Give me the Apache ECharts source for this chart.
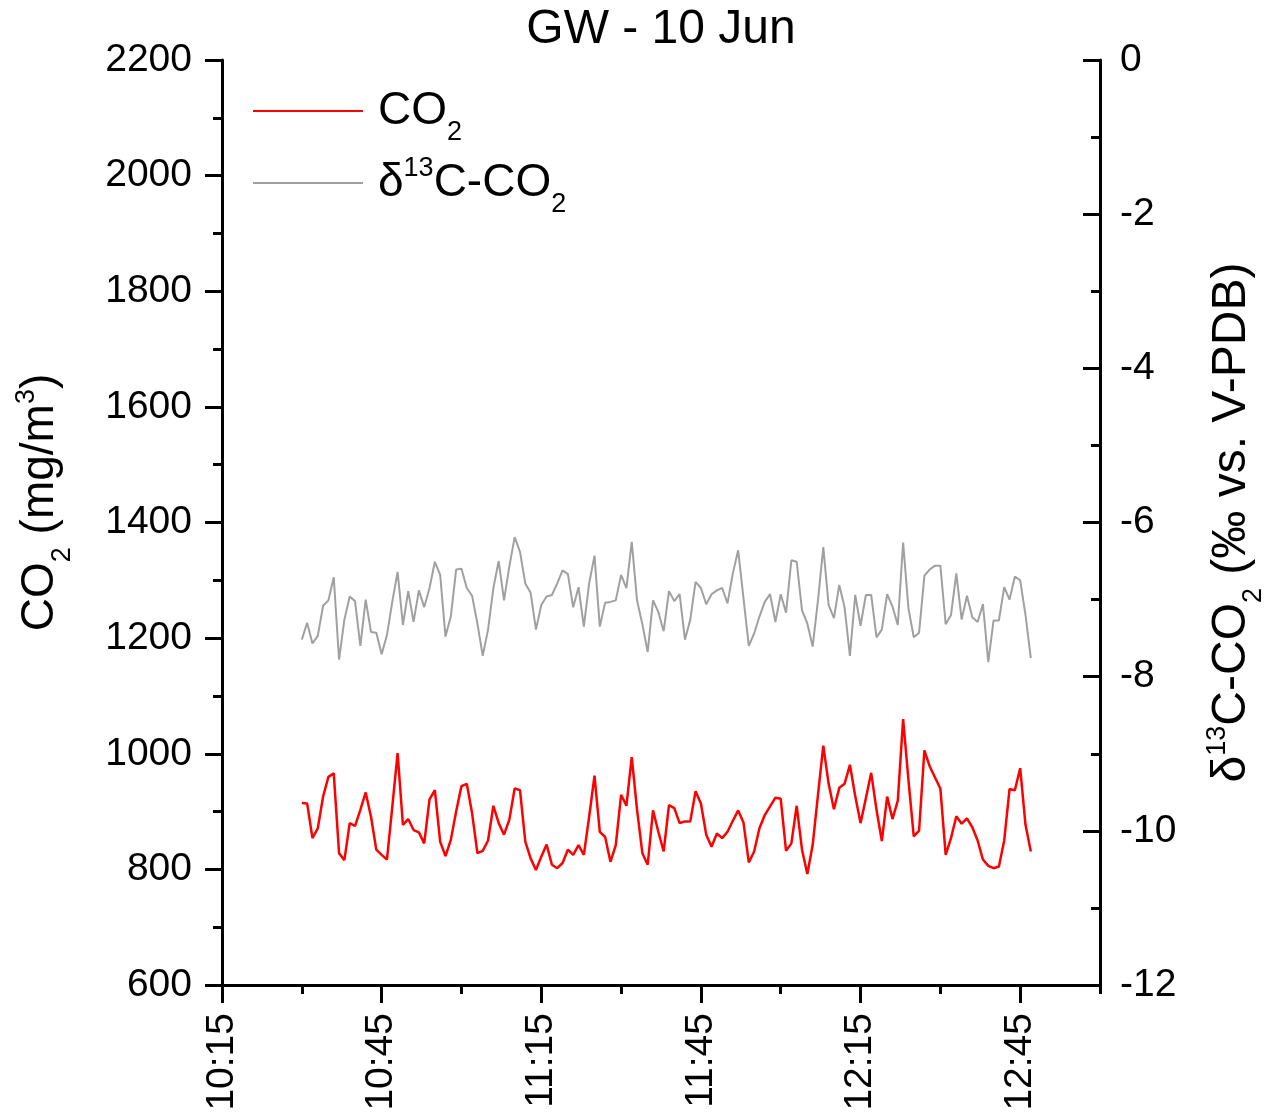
<!DOCTYPE html>
<html>
<head>
<meta charset="utf-8">
<script src="https://cdn.jsdelivr.net/npm/echarts@6/dist/echarts.min.js"></script>
<style>
html,body{margin:0;padding:0;background:#fff;}
#chart{width:1273px;height:1115px;}
</style>
</head>
<body>
<div id="chart"></div>
<script>
const times = [
"10:30","10:31","10:32","10:33","10:34","10:35","10:36","10:37","10:38","10:39",
"10:40","10:41","10:42","10:43","10:44","10:45","10:46","10:47","10:48","10:49",
"10:50","10:51","10:52","10:53","10:54","10:55","10:56","10:57","10:58","10:59",
"11:00","11:01","11:02","11:03","11:04","11:05","11:06","11:07","11:08","11:09",
"11:10","11:11","11:12","11:13","11:14","11:15","11:16","11:17","11:18","11:19",
"11:20","11:21","11:22","11:23","11:24","11:25","11:26","11:27","11:28","11:29",
"11:30","11:31","11:32","11:33","11:34","11:35","11:36","11:37","11:38","11:39",
"11:40","11:41","11:42","11:43","11:44","11:45","11:46","11:47","11:48","11:49",
"11:50","11:51","11:52","11:53","11:54","11:55","11:56","11:57","11:58","11:59",
"12:00","12:01","12:02","12:03","12:04","12:05","12:06","12:07","12:08","12:09",
"12:10","12:11","12:12","12:13","12:14","12:15","12:16","12:17","12:18","12:19",
"12:20","12:21","12:22","12:23","12:24","12:25","12:26","12:27","12:28","12:29",
"12:30","12:31","12:32","12:33","12:34","12:35","12:36","12:37","12:38","12:39",
"12:40","12:41","12:42","12:43","12:44","12:45","12:46","12:47"];

const co2 = [
915,914,854,871,926,960,966,828,816,880,
875,903,933,891,834,825,817,908,1001,877,
887,868,864,845,921,937,848,823,851,900,
944,948,897,828,832,850,910,880,860,886,
940,937,848,819,799,822,843,808,802,811,
834,825,842,825,891,962,865,856,813,842,
929,910,994,903,828,808,902,865,831,911,
906,880,883,883,935,914,860,839,862,854,
865,884,902,881,812,831,871,894,909,924,
922,832,845,910,834,792,842,929,1014,948,
904,941,948,981,927,880,923,967,903,849,
926,887,919,1060,955,857,867,1006,978,959,
940,825,854,892,879,888,873,850,817,806,
802,805,850,939,937,975,877,831];

const d13c = [
-7.52,-7.30,-7.57,-7.47,-7.08,-7.01,-6.71,-7.78,-7.26,-6.96,
-7.02,-7.60,-7.00,-7.42,-7.43,-7.71,-7.46,-7.03,-6.64,-7.33,
-6.89,-7.29,-6.88,-7.10,-6.85,-6.51,-6.68,-7.48,-7.22,-6.61,
-6.60,-6.85,-6.95,-7.31,-7.73,-7.39,-6.85,-6.50,-7.01,-6.57,
-6.19,-6.38,-6.79,-6.91,-7.39,-7.07,-6.96,-6.94,-6.79,-6.62,
-6.67,-7.10,-6.84,-7.35,-6.79,-6.43,-7.35,-7.04,-7.03,-7.01,
-6.68,-6.85,-6.25,-7.01,-7.32,-7.68,-7.01,-7.16,-7.41,-6.89,
-7.02,-6.93,-7.52,-7.26,-6.77,-6.85,-7.06,-6.93,-6.88,-6.85,
-7.05,-6.66,-6.36,-6.98,-7.60,-7.44,-7.22,-7.03,-6.93,-7.29,
-6.93,-7.17,-6.49,-6.51,-7.14,-7.31,-7.61,-7.01,-6.32,-7.07,
-7.24,-6.81,-7.10,-7.73,-6.94,-7.34,-6.94,-6.94,-7.49,-7.39,
-6.93,-7.09,-7.33,-6.26,-7.11,-7.49,-7.43,-6.69,-6.61,-6.56,
-6.56,-7.32,-7.20,-6.66,-7.26,-6.95,-7.23,-7.29,-7.06,-7.81,
-7.27,-7.27,-6.84,-7.00,-6.70,-6.75,-7.20,-7.76];

const xTickLabels = ["10:15","10:45","11:15","11:45","12:15","12:45"];
const xStart = "10:15";
const xEnd = "13:00";

function toMin(t){ const p = t.split(":"); return (+p[0])*60 + (+p[1]); }
const base = toMin(xStart);
const xMax = toMin(xEnd) - base;
function fmt(v){ const m = Math.round(v + base); const h = Math.floor(m/60); const mm = m % 60; return h + ":" + (mm < 10 ? "0" : "") + mm; }
const majorVals = xTickLabels.map(t => toMin(t) - base);

const co2Data = times.map((t,i) => [toMin(t) - base, co2[i]]);
const dData = times.map((t,i) => [toMin(t) - base, d13c[i]]);

const FONT = "Liberation Sans, Arial, sans-serif";
function rich(size){
  return {
    n: {fontSize: size, fontFamily: FONT, color: '#000'},
    sub: {fontSize: 27, fontFamily: FONT, color: '#000', padding: [44,0,0,0]},
    sup: {fontSize: 27, fontFamily: FONT, color: '#000', padding: [0,0,28,0]}
  };
}

const chart = echarts.init(document.getElementById('chart'), null, {renderer: 'canvas'});
chart.setOption({
  backgroundColor: '#fff',
  animation: false,
  title: {
    text: 'GW - 10 Jun', left: 661, textAlign: 'center', top: 6, padding: 0,
    textStyle: {fontSize: 48, fontWeight: 'normal', fontFamily: FONT, color: '#000'}
  },
  legend: {
    orient: 'vertical', left: 253, top: 88, padding: 0, itemWidth: 110, itemHeight: 2, itemGap: 9,
    icon: 'rect',
    data: ['CO2', 'd13C'],
    formatter: function(name){
      return name === 'CO2' ? '{p|}{n|CO}{sub|2}' : '{p|}{n|δ}{sup|13}{n|C-CO}{sub|2}';
    },
    textStyle: {rich: Object.assign({p: {width: 10}}, rich(46))}
  },
  grid: {left: 222, right: 173, top: 60, bottom: 130, containLabel: false, outerBoundsMode: 'none'},
  xAxis: [{
    type: 'value', min: 0, max: xMax, interval: 30, position: 'bottom',
    axisLine: {show: true, onZero: false, lineStyle: {color: '#000', width: 3}},
    axisTick: {show: true, inside: false, length: 18, lineStyle: {color: '#000', width: 3}, customValues: majorVals},
    axisLabel: {rotate: 90, margin: 28, fontSize: 39, fontFamily: FONT, color: '#000', customValues: majorVals,
      formatter: function(v){ return majorVals.indexOf(v) >= 0 ? fmt(v) : ''; }},
    splitLine: {show: false}
  }, {
    type: 'value', min: 0, max: xMax, interval: 15, position: 'bottom',
    axisLine: {show: false, onZero: false},
    axisTick: {show: true, inside: false, length: 9, lineStyle: {color: '#000', width: 3}},
    axisLabel: {show: false},
    splitLine: {show: false}
  }],
  yAxis: [{
    type: 'value', min: 600, max: 2200, interval: 200, position: 'left',
    name: '{n|CO}{sub|2}{n| (mg/m}{sup|3}{n|)}', nameLocation: 'middle', nameGap: 146, nameRotate: 90,
    nameTextStyle: {rich: rich(46), padding: [0, 0, 0, 40]},
    axisLine: {show: true, onZero: false, lineStyle: {color: '#000', width: 3}},
    axisTick: {show: true, inside: false, length: 17, lineStyle: {color: '#000', width: 3}},
    minorTick: {show: true, splitNumber: 2, length: 9, lineStyle: {color: '#000', width: 3}},
    axisLabel: {margin: 30, fontSize: 39, fontFamily: FONT, color: '#000', formatter: function(v){ return String(v); }},
    splitLine: {show: false}
  }, {
    type: 'value', min: -12, max: 0, interval: 2, position: 'right',
    name: '{n|δ}{sup|13}{n|C-CO}{sub|2}{n| (‰ vs. V-PDB)}', nameLocation: 'middle', nameGap: 96, nameRotate: 90,
    nameTextStyle: {rich: rich(48)},
    axisLine: {show: true, onZero: false, lineStyle: {color: '#000', width: 3}},
    axisTick: {show: true, inside: true, length: 17, lineStyle: {color: '#000', width: 3}},
    minorTick: {show: true, splitNumber: 2, length: 9, lineStyle: {color: '#000', width: 3}},
    axisLabel: {margin: 20, fontSize: 39, fontFamily: FONT, color: '#000', formatter: function(v){ return String(v); }},
    splitLine: {show: false}
  }],
  series: [{
    name: 'CO2', type: 'line', xAxisIndex: 0, yAxisIndex: 0, data: co2Data,
    symbol: 'none', lineStyle: {color: '#ff0000', width: 2.5}, itemStyle: {color: '#ff0000'}
  }, {
    name: 'd13C', type: 'line', xAxisIndex: 0, yAxisIndex: 1, data: dData,
    symbol: 'none', lineStyle: {color: '#a0a0a0', width: 2}, itemStyle: {color: '#a0a0a0'}
  }]
});
</script>
</body>
</html>
